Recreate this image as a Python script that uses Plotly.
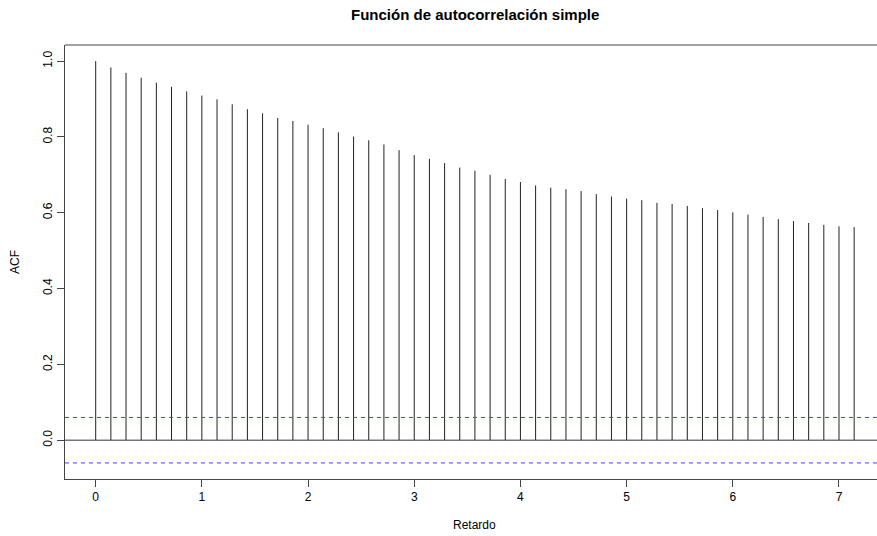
import plotly.graph_objects as go

# Data
lags = [k / 7 for k in range(51)]
acf_values = [
    1.000, 0.983, 0.969, 0.956, 0.943, 0.932, 0.920, 0.909, 0.899, 0.886,
    0.873, 0.862, 0.850, 0.842, 0.832, 0.823, 0.812, 0.801, 0.791, 0.780,
    0.765, 0.752, 0.742, 0.731, 0.719, 0.711, 0.700, 0.689, 0.681, 0.672,
    0.666, 0.662, 0.657, 0.649, 0.643, 0.637, 0.633, 0.626, 0.623, 0.618,
    0.612, 0.607, 0.601, 0.595, 0.589, 0.583, 0.578, 0.573, 0.568, 0.564,
    0.562,
]
conf_limit = 0.060
x_ticks = [0, 1, 2, 3, 4, 5, 6, 7]
y_ticks = [0.0, 0.2, 0.4, 0.6, 0.8, 1.0]

title_text = "Función de autocorrelación simple"
x_title = "Retardo"
y_title = "ACF"

X_RANGE = [-0.289, 7.358]
Y_RANGE = [-0.1024, 1.0424]

# Build vertical spikes
xs, ys = [], []
for lx, v in zip(lags, acf_values):
    xs += [lx, lx, None]
    ys += [0, v, None]

FONT = "Liberation Sans, Arial, Helvetica, sans-serif"

fig = go.Figure()
fig.add_trace(go.Scatter(x=xs, y=ys, mode="lines",
                         line=dict(color="#222222", width=1),
                         hoverinfo="skip", showlegend=False))
# zero line and confidence bands
for yv, col, dash in [(0, "#333333", "solid"),
                      (conf_limit, "#4040ff", "4px,4px"),
                      (-conf_limit, "#4040ff", "4px,4px")]:
    fig.add_trace(go.Scatter(x=X_RANGE, y=[yv, yv], mode="lines",
                             line=dict(color=col, width=1, dash=dash),
                             hoverinfo="skip", showlegend=False, cliponaxis=True))

W, H = 877, 536
ml, mr, mt, mb = 65, 0, 45, 57
pw, ph = W - ml - mr, H - mt - mb

def px_x(p):
    return (p - ml) / pw

def px_y(p):
    return (H - mb - p) / ph

shapes = [
    # top box line
    dict(type="line", xref="paper", yref="paper", x0=0, x1=1, y0=1, y1=1,
         line=dict(color="#444444", width=1)),
]

annotations = [
    dict(text=f"<b>{title_text}</b>", xref="paper", yref="paper",
         x=px_x(475), y=px_y(15), xanchor="center", yanchor="middle",
         showarrow=False, font=dict(family=FONT, size=15, color="black")),
    dict(text=x_title, xref="paper", yref="paper",
         x=px_x(474), y=px_y(525), xanchor="center", yanchor="middle",
         showarrow=False, font=dict(family=FONT, size=12, color="black")),
    dict(text=y_title, xref="paper", yref="paper",
         x=px_x(15), y=px_y(262), xanchor="center", yanchor="middle",
         textangle=-90, showarrow=False, font=dict(family=FONT, size=12, color="black")),
]

fig.update_layout(
    width=W, height=H,
    margin=dict(l=ml, r=mr, t=mt, b=mb, pad=0, autoexpand=False),
    paper_bgcolor="white", plot_bgcolor="white",
    font=dict(family=FONT, size=12, color="black"),
    shapes=shapes, annotations=annotations,
    xaxis=dict(range=X_RANGE, tickvals=x_ticks,
               ticktext=[str(t) for t in x_ticks], automargin=False,
               showgrid=False, zeroline=False, showline=True,
               linecolor="#444444", linewidth=1,
               ticks="outside", ticklen=7, tickcolor="#444444",
               tickfont=dict(family=FONT, size=12, color="black")),
    yaxis=dict(range=Y_RANGE, tickvals=y_ticks,
               ticktext=[f"{t:.1f}" for t in y_ticks], automargin=False,
               tickangle=-90,
               showgrid=False, zeroline=False, showline=True,
               linecolor="#444444", linewidth=1,
               ticks="outside", ticklen=7, tickcolor="#444444",
               tickfont=dict(family=FONT, size=12, color="black")),
)

fig.write_html(
    "out.html",
    config={"displayModeBar": False},
    post_script="document.body.style.margin='0';document.body.style.overflow='hidden';",
)
